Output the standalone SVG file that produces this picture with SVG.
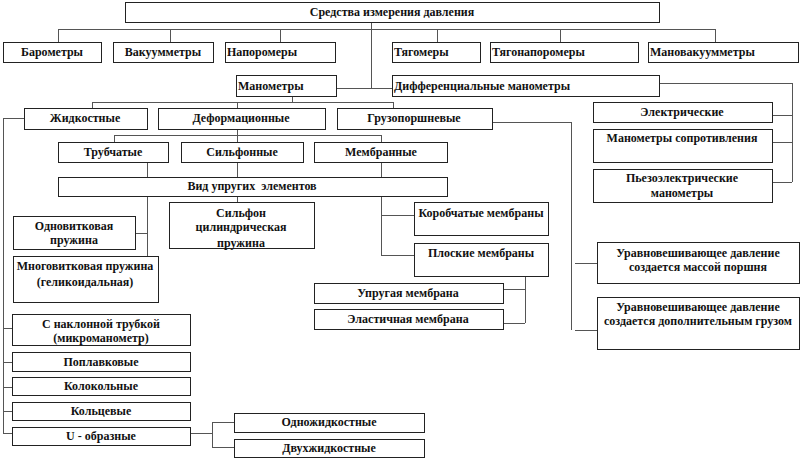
<svg xmlns="http://www.w3.org/2000/svg" width="800" height="460" viewBox="0 0 800 460">
<style>
.b{fill:#fff;stroke:#222;stroke-width:1;shape-rendering:crispEdges}
text{font-family:'Liberation Serif','Times New Roman','DejaVu Serif',serif;font-weight:bold;font-size:12px;fill:#111}
.c{text-anchor:middle}
.ln{fill:none;stroke:#555;stroke-width:1;shape-rendering:crispEdges}
</style>
<rect width="800" height="460" fill="#fff"/>
<g id="connectors" class="ln">
<path d="M371 22V88M58 29H715M58 29V42M170 29V42M280 29V42M437 29V42M560 29V42M715 29V42M336 88H392"/>
<path d="M659 83H792V182M772 115H792M772 142H792M772 182H792"/>
<path d="M292 96V102M92 102H393M92 102V108M237 102V108M393 102V108"/>
<path d="M24 118H3V433M3 328H12M3 362H12M3 387H12M3 411H12M3 433H12"/>
<path d="M190 433H212M212 422V447M212 422H234M212 447H234"/>
<path d="M237 129V135M114 135H381M114 135V142M237 135V142M381 135V142"/>
<path d="M147 162V177M237 162V177M381 162V177"/>
<path d="M147 196V256M135 233H147M237 196V202M381 196V255M381 215H414M381 255H414"/>
<path d="M525 276V323M503 289H525M503 323H525"/>
<path d="M492 122H571V330M575 263H597M575 330H597"/>
</g>
<g font-family="Liberation Serif, Times New Roman, serif" font-weight="bold" font-size="12">
<g id="n-root"><rect class="b" x="125" y="2" width="534" height="20"/><text class="c" x="392" y="16">Средства измерения давления</text></g>
<g id="n-barometry"><rect class="b" x="3" y="42" width="98" height="20"/><text class="c" x="52" y="56">Барометры</text></g>
<g id="n-vakuummetry"><rect class="b" x="113" y="42" width="100" height="20"/><text class="c" x="163" y="56">Вакуумметры</text></g>
<g id="n-naporomery"><rect class="b" x="225" y="42" width="110" height="20"/><text x="227" y="56">Напоромеры</text></g>
<g id="n-tyagomery"><rect class="b" x="392" y="42" width="88" height="20"/><text x="394" y="56">Тягомеры</text></g>
<g id="n-tyagonaporomery"><rect class="b" x="490" y="42" width="148" height="20"/><text x="492" y="56">Тягонапоромеры</text></g>
<g id="n-manovakuummetry"><rect class="b" x="648" y="42" width="150" height="20"/><text x="650" y="56">Мановакуумметры</text></g>
<g id="n-manometry"><rect class="b" x="236" y="75" width="100" height="21"/><text x="238" y="90">Манометры</text></g>
<g id="n-diff"><rect class="b" x="392" y="75" width="267" height="21"/><text x="394" y="90">Дифференциальные манометры</text></g>
<g id="n-zhidk"><rect class="b" x="24" y="108" width="123" height="21"/><text class="c" x="85" y="122">Жидкостные</text></g>
<g id="n-deform"><rect class="b" x="158" y="108" width="167" height="21"/><text class="c" x="241" y="122">Деформационные</text></g>
<g id="n-gruz"><rect class="b" x="337" y="108" width="155" height="21"/><text class="c" x="414" y="122">Грузопоршневые</text></g>
<g id="n-trub"><rect class="b" x="58" y="142" width="110" height="20"/><text class="c" x="113" y="156">Трубчатые</text></g>
<g id="n-silf"><rect class="b" x="181" y="142" width="122" height="20"/><text class="c" x="242" y="156">Сильфонные</text></g>
<g id="n-membr"><rect class="b" x="314" y="142" width="133" height="20"/><text class="c" x="381" y="156">Мембранные</text></g>
<g id="n-vid"><rect class="b" x="58" y="177" width="389" height="19"/><text class="c" x="252" y="190" xml:space="preserve">Вид упругих  элементов</text></g>
<g id="n-odnovit"><rect class="b" x="13" y="216" width="122" height="33"/><text class="c" x="74" y="230">Одновитковая</text><text class="c" x="74" y="244">пружина</text></g>
<g id="n-mnogovit"><rect class="b" x="13" y="256" width="145" height="46"/><text class="c" x="85" y="270">Многовитковая пружина</text><text class="c" x="85" y="286">(геликоидальная)</text></g>
<g id="n-silfon"><rect class="b" x="169" y="202" width="145" height="46"/><text class="c" x="241" y="217">Сильфон</text><text class="c" x="241" y="231">цилиндрическая</text><text class="c" x="241" y="247">пружина</text></g>
<g id="n-korob"><rect class="b" x="414" y="202" width="134" height="33"/><text class="c" x="481" y="217">Коробчатые мембраны</text></g>
<g id="n-plosk"><rect class="b" x="414" y="243" width="134" height="33"/><text class="c" x="481" y="257">Плоские мембраны</text></g>
<g id="n-uprug"><rect class="b" x="314" y="283" width="189" height="20"/><text class="c" x="408" y="297">Упругая мембрана</text></g>
<g id="n-elast"><rect class="b" x="314" y="309" width="189" height="20"/><text class="c" x="408" y="323">Эластичная мембрана</text></g>
<g id="n-elektr"><rect class="b" x="593" y="102" width="179" height="20"/><text class="c" x="682" y="116">Электрические</text></g>
<g id="n-soprot"><rect class="b" x="593" y="129" width="179" height="33"/><text class="c" x="682" y="142">Манометры сопротивления</text></g>
<g id="n-piezo"><rect class="b" x="593" y="169" width="179" height="33"/><text class="c" x="682" y="182">Пьезоэлектрические</text><text class="c" x="682" y="197">манометры</text></g>
<g id="n-uravn1"><rect class="b" x="597" y="242" width="202" height="41"/><text class="c" x="698" y="257">Уравновешивающее давление</text><text class="c" x="698" y="271">создается массой поршня</text></g>
<g id="n-uravn2"><rect class="b" x="597" y="297" width="202" height="52"/><text class="c" x="698" y="311">Уравновешивающее давление</text><text class="c" x="698" y="325">создается дополнительным грузом</text></g>
<g id="n-naklon"><rect class="b" x="12" y="314" width="178" height="31"/><text class="c" x="101" y="328">С наклонной трубкой</text><text class="c" x="101" y="342">(микроманометр)</text></g>
<g id="n-poplav"><rect class="b" x="12" y="352" width="178" height="19"/><text class="c" x="101" y="366">Поплавковые</text></g>
<g id="n-kolokol"><rect class="b" x="12" y="377" width="178" height="18"/><text class="c" x="101" y="390">Колокольные</text></g>
<g id="n-kolcev"><rect class="b" x="12" y="402" width="178" height="18"/><text class="c" x="101" y="415">Кольцевые</text></g>
<g id="n-u"><rect class="b" x="12" y="427" width="178" height="18"/><text class="c" x="101" y="440">U - образные</text></g>
<g id="n-odnozh"><rect class="b" x="234" y="413" width="190" height="19"/><text class="c" x="329" y="426">Одножидкостные</text></g>
<g id="n-dvuhzh"><rect class="b" x="234" y="439" width="190" height="18"/><text class="c" x="329" y="452">Двухжидкостные</text></g>
</g>
</svg>
